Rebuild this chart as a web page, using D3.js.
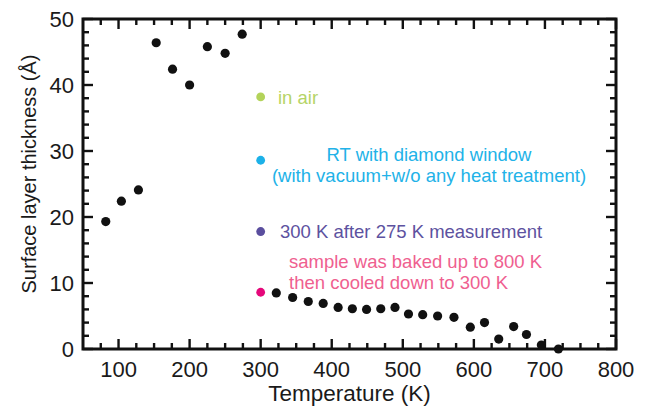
<!DOCTYPE html>
<html>
<head>
<meta charset="utf-8">
<script src="https://cdn.jsdelivr.net/npm/d3@7"></script>
<style>
  body { margin: 0; background: #fff; }
  svg { display: block; font-family: "Liberation Sans", Arial, Helvetica, sans-serif; }
</style>
</head>
<body>
<div id="chart"></div>
<script>
// measured points (K, Å)
const tempK = [82, 104, 128, 153, 176, 200, 225, 250, 274,
  322, 345, 367, 388, 409, 429, 449, 469, 489, 508, 528, 549, 572, 595, 615, 635, 656, 674, 695, 719];
const thickness = [19.3, 22.4, 24.1, 46.4, 42.4, 40.0, 45.8, 44.8, 47.7,
  8.5, 7.8, 7.2, 6.9, 6.3, 6.1, 6.0, 6.1, 6.3, 5.3, 5.2, 5.0, 4.8, 3.3, 4.0, 1.5, 3.4, 2.2, 0.6, 0.0];

// coloured reference points at 300 K
const refLabels = [
  ["in air"],
  ["RT with diamond window", "(with vacuum+w/o any heat treatment)"],
  ["300 K after 275 K measurement"],
  ["sample was baked up to 800 K", "then cooled down to 300 K"]
];
const refTemp = [300, 300, 300, 300];
const refThickness = [38.2, 28.6, 17.8, 8.6];
const refDotColors = ["#b3d35a", "#1cb1e8", "#5a4e9e", "#e5087a"];
const refTextColors = ["#b5d466", "#22b2e8", "#5d52a0", "#ef6090"];

const xTicks = [100, 200, 300, 400, 500, 600, 700, 800];
const yTicks = [0, 10, 20, 30, 40, 50];

const width = 648, height = 410;
const margin = { left: 83, right: 32, top: 19, bottom: 61 };

const svg = d3.select('#chart').append('svg')
  .attr('width', width)
  .attr('height', height);

const x = d3.scaleLinear().domain([50, 800]).range([margin.left, width - margin.right]);
const y = d3.scaleLinear().domain([0, 50]).range([height - margin.bottom, margin.top]);

const x0 = x.range()[0], x1 = x.range()[1];
const y0 = y.range()[0], y1 = y.range()[1];

// ticks (inward on all four sides)
const xMinor = d3.range(75, 800, 25).filter(v => v % 100 !== 0);
const yMinor = d3.range(2, 50, 2).filter(v => v % 10 !== 0);
const ticks = svg.append('g').attr('stroke', '#111').attr('stroke-width', 2.4);

[[xTicks, 10], [xMinor, 6]].forEach(([vals, len]) => {
  vals.forEach(v => {
    ticks.append('line').attr('x1', x(v)).attr('x2', x(v)).attr('y1', y0).attr('y2', y0 - len);
    ticks.append('line').attr('x1', x(v)).attr('x2', x(v)).attr('y1', y1).attr('y2', y1 + len);
  });
});
[[yTicks, 10], [yMinor, 6]].forEach(([vals, len]) => {
  vals.forEach(v => {
    ticks.append('line').attr('y1', y(v)).attr('y2', y(v)).attr('x1', x0).attr('x2', x0 + len);
    ticks.append('line').attr('y1', y(v)).attr('y2', y(v)).attr('x1', x1).attr('x2', x1 - len);
  });
});

// frame
svg.append('rect')
  .attr('x', x0).attr('y', y1)
  .attr('width', x1 - x0).attr('height', y0 - y1)
  .attr('fill', 'none').attr('stroke', '#111').attr('stroke-width', 3);

// tick labels
svg.append('g').selectAll('text')
  .data(xTicks)
  .join('text')
  .attr('x', d => x(d))
  .attr('y', y0 + 28)
  .attr('text-anchor', 'middle')
  .attr('font-size', 22)
  .attr('fill', '#1a1a1a')
  .text(d => d);

svg.append('g').selectAll('text')
  .data(yTicks)
  .join('text')
  .attr('x', x0 - 9)
  .attr('y', d => y(d) + 7.5)
  .attr('text-anchor', 'end')
  .attr('font-size', 22)
  .attr('fill', '#1a1a1a')
  .text(d => d);

// axis titles
svg.append('text')
  .attr('x', (x0 + x1) / 2)
  .attr('y', 401)
  .attr('text-anchor', 'middle')
  .attr('font-size', 22.5)
  .attr('fill', '#1a1a1a')
  .text('Temperature (K)');

svg.append('text')
  .attr('transform', `translate(36,${(y0 + y1) / 2 - 10}) rotate(-90)`)
  .attr('text-anchor', 'middle')
  .attr('font-size', 20)
  .attr('fill', '#1a1a1a')
  .text('Surface layer thickness (Å)');

// data points
svg.append('g').selectAll('circle')
  .data(tempK.map((t, i) => [t, thickness[i]]))
  .join('circle')
  .attr('cx', d => x(d[0]))
  .attr('cy', d => y(d[1]))
  .attr('r', 4.6)
  .attr('fill', '#111');

// reference points and labels
const refs = refTemp.map((t, i) => ({ t, v: refThickness[i], lines: refLabels[i], dot: refDotColors[i], txt: refTextColors[i] }));

svg.append('g').selectAll('circle')
  .data(refs)
  .join('circle')
  .attr('cx', d => x(d.t))
  .attr('cy', d => y(d.v))
  .attr('r', 4.4)
  .attr('fill', d => d.dot);

// label placement: [x, first baseline, anchor]
const labelPos = [[278, 104, 'start'], [429, 161, 'middle'], [280, 238, 'start'], [289, 268, 'start']];
refs.forEach((d, i) => {
  const [lx, ly, anchor] = labelPos[i];
  const t = svg.append('text')
    .attr('x', lx).attr('y', ly)
    .attr('text-anchor', anchor)
    .attr('font-size', 18.5)
    .attr('fill', d.txt);
  d.lines.forEach((line, j) => {
    t.append('tspan').attr('x', lx).attr('dy', j === 0 ? 0 : 21).text(line);
  });
});
</script>
</body>
</html>
